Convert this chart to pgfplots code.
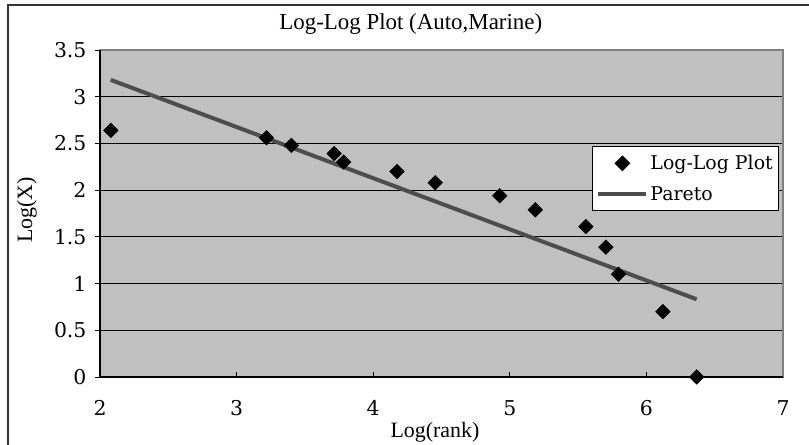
\documentclass[border=0pt]{standalone}
\usepackage{fontspec}
\setmainfont{Liberation Serif}
\newfontfamily\tickfont{DejaVu Serif}
\usepackage{pgfplots}
\usepackage{pgfplotstable}
\pgfplotsset{compat=1.18}
\definecolor{plotgray}{RGB}{192,192,192}
\definecolor{bordergray}{RGB}{128,128,128}
\definecolor{paretogray}{RGB}{77,77,77}
\definecolor{framegray}{RGB}{51,51,51}

\pgfplotsset{
  diamond key/.style={legend image code/.code={\draw[##1, mark repeat=2, mark phase=2]
    plot coordinates {(0bp,0bp) (24bp,0bp) (48bp,0bp)};}},
  pareto key/.style={legend image code/.code={\draw[##1] (0bp,0bp) -- (48bp,0bp);}},
}

% log(rank) vs log(X)
\pgfplotstableread{
lr    lx
2.079 2.64
3.219 2.56
3.401 2.48
3.714 2.39
3.784 2.30
4.174 2.20
4.454 2.08
4.927 1.94
5.187 1.79
5.557 1.61
5.704 1.39
5.796 1.10
6.120 0.70
6.368 0.00
}\loglog

% fitted Pareto line (end points)
\pgfplotstableread{
lr    lx
2.079 3.18
6.368 0.832
}\pareto

\begin{document}
\begin{tikzpicture}
\useasboundingbox (0bp,0bp) rectangle (809bp,-445bp);
% chart frame (runs past the page edge on the right and bottom)
\draw[framegray, line width=1.6bp] (8bp,-5bp) rectangle (840bp,-470bp);

\begin{axis}[
  at={(100bp,-377bp)}, anchor=south west,
  scale only axis, width=683bp, height=327bp,
  xmin=2, xmax=7, ymin=0, ymax=3.5,
  xtick={2,3,4,5,6,7},
  ytick={0,0.5,1,1.5,2,2.5,3,3.5},
  yticklabels={0,0.5,1,1.5,2,2.5,3,3.5},
  xtick pos=bottom, ytick pos=left,
  tick align=inside,
  major tick length=5bp,
  tick style={black, line width=1bp},
  ytick style={xshift=-5bp},
  axis background/.style={fill=plotgray},
  axis line style={bordergray, line width=2bp},
  ymajorgrids,
  major grid style={black, line width=1.1bp},
  /pgf/number format/assume math mode=true,
  tick label style={font=\tickfont\fontsize{20.5}{24}\selectfont},
  xticklabel style={anchor=center, yshift=-31bp},
  yticklabel style={anchor=east, xshift=-10bp},
  title={Log-Log Plot (Auto,Marine)},
  title style={at={(axis description cs:0.455,1.06)}, anchor=center,
    font=\fontsize{23}{27}\selectfont},
  xlabel={Log(rank)},
  xlabel style={at={(axis description cs:0.4905,-0.168)}, anchor=center,
    font=\fontsize{22}{26}\selectfont},
  ylabel={Log(X)},
  ylabel style={at={(axis description cs:-0.107,0.511)}, anchor=center,
    font=\fontsize{22}{26}\selectfont},
  clip=false,
  legend style={at={(axis description cs:0.7204,0.7064)}, anchor=north west,
    fill=white, draw=black, line width=0.8bp,
    font=\tickfont\fontsize{19}{22}\selectfont,
    inner xsep=4bp, inner ysep=7bp, row sep=11bp,
    nodes={inner xsep=2bp}},
  legend cell align=left,
]
\draw[black, line width=1.6bp] (rel axis cs:0,1) -- (rel axis cs:0,0) -- (rel axis cs:1,0);

\addplot[only marks, mark=square*, mark size=5.2bp,
  mark options={rotate=45, fill=black, draw=black}, diamond key]
  table[x=lr, y=lx] {\loglog};
\addlegendentry{Log-Log Plot}

\addplot[paretogray, line width=4bp, no marks, pareto key]
  table[x=lr, y=lx] {\pareto};
\addlegendentry{Pareto}
\end{axis}
\end{tikzpicture}
\end{document}
